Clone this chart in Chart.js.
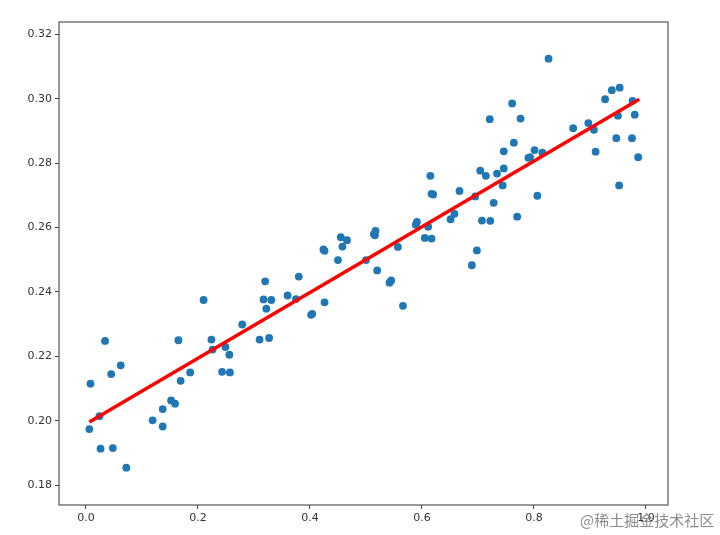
<!DOCTYPE html>
<html lang="zh">
<head>
  <meta charset="UTF-8" />
  <title>线性回归散点图</title>
  <script src="https://cdn.jsdelivr.net/npm/chart.js"></script>
  <style>
    html, body { margin: 0; padding: 0; background: #fff; }
    #wrap { position: relative; width: 720px; height: 535px; }
    #mark {
      position: absolute; left: 580px; top: 509px;
      font: 15px "Noto Sans CJK SC", sans-serif;
      color: rgba(120,120,120,0.85); white-space: nowrap;
    }
  </style>
</head>
<body>
<div id="wrap">
  <canvas id="chart" width="720" height="535"></canvas>
  <div id="mark">@稀土掘金技术社区</div>
</div>
<script>
  // scatter points
  const xValues = [0.006, 0.008, 0.024, 0.026, 0.034, 0.045, 0.048, 0.062, 0.072, 0.119,
    0.137, 0.137, 0.152, 0.159, 0.165, 0.169, 0.186, 0.210, 0.224, 0.226,
    0.243, 0.249, 0.256, 0.257, 0.279, 0.310, 0.317, 0.320, 0.322, 0.327,
    0.331, 0.360, 0.375, 0.380, 0.402, 0.404, 0.424, 0.426, 0.426, 0.450,
    0.455, 0.458, 0.466, 0.500, 0.514, 0.516, 0.517, 0.520, 0.542, 0.545,
    0.557, 0.566, 0.589, 0.591, 0.605, 0.611, 0.615, 0.617, 0.617, 0.620,
    0.651, 0.658, 0.667, 0.689, 0.695, 0.698, 0.704, 0.707, 0.714, 0.721,
    0.722, 0.728, 0.734, 0.744, 0.746, 0.746, 0.761, 0.764, 0.770, 0.776,
    0.790, 0.793, 0.801, 0.806, 0.815, 0.826, 0.870, 0.897, 0.907, 0.910,
    0.927, 0.939, 0.947, 0.950, 0.953, 0.952, 0.975, 0.976, 0.980, 0.986];
  const yValues = [0.1974, 0.2115, 0.2014, 0.1913, 0.2248, 0.2145, 0.1915, 0.2172, 0.1854, 0.2001,
    0.2036, 0.1982, 0.2063, 0.2053, 0.2250, 0.2124, 0.2150, 0.2375, 0.2252, 0.2221,
    0.2152, 0.2229, 0.2205, 0.2150, 0.2299, 0.2252, 0.2377, 0.2433, 0.2348, 0.2257,
    0.2375, 0.2389, 0.2378, 0.2448, 0.2329, 0.2332, 0.2532, 0.2528, 0.2368, 0.2499,
    0.2570, 0.2541, 0.2561, 0.2499, 0.2580, 0.2576, 0.2590, 0.2467, 0.2429, 0.2436,
    0.2540, 0.2357, 0.2609, 0.2618, 0.2568, 0.2603, 0.2761, 0.2566, 0.2705, 0.2703,
    0.2626, 0.2643, 0.2714, 0.2483, 0.2697, 0.2529, 0.2777, 0.2622, 0.2761, 0.2937,
    0.2621, 0.2677, 0.2768, 0.2731, 0.2784, 0.2837, 0.2986, 0.2864, 0.2634, 0.2939,
    0.2817, 0.2819, 0.2841, 0.2699, 0.2833, 0.3125, 0.2909, 0.2925, 0.2904, 0.2836,
    0.2999, 0.3027, 0.2878, 0.2948, 0.3035, 0.2731, 0.2878, 0.2994, 0.2951, 0.2819];

  // fitted line end points
  const fitX = [0.006, 0.988];
  const fitY = [0.1996, 0.2999];

  const xTicks = [0.0, 0.2, 0.4, 0.6, 0.8, 1.0];
  const yTicks = [0.18, 0.20, 0.22, 0.24, 0.26, 0.28, 0.30, 0.32];

  const tickFont = { family: 'DejaVu Sans', size: 11 };

  // frame round the plot area, like matplotlib's spines
  const frame = {
    id: 'frame',
    afterDatasetsDraw(chart) {
      const a = chart.chartArea, c = chart.ctx;
      c.save();
      c.strokeStyle = '#555';
      c.lineWidth = 1.2;
      c.strokeRect(a.left, a.top, a.right - a.left, a.bottom - a.top);
      c.restore();
    }
  };

  new Chart(document.getElementById('chart'), {
    type: 'scatter',
    data: {
      datasets: [{
        type: 'line',
        data: fitX.map((x, i) => ({ x: x, y: fitY[i] })),
        borderColor: '#ff0000',
        borderWidth: 3.5,
        pointRadius: 0,
        fill: false,
        order: 0
      }, {
        data: xValues.map((x, i) => ({ x: x, y: yValues[i] })),
        backgroundColor: '#1f77b4',
        borderColor: '#1f77b4',
        pointRadius: 3.9,
        borderWidth: 0,
        order: 1
      }]
    },
    options: {
      responsive: false,
      animation: false,
      devicePixelRatio: 1,
      layout: { padding: { top: 22, right: 52, left: 0, bottom: 0 } },
      plugins: { legend: { display: false }, tooltip: { enabled: false } },
      scales: {
        x: {
          type: 'linear',
          min: -0.0482, max: 1.0393,
          afterBuildTicks: s => { s.ticks = xTicks.map(v => ({ value: v })); },
          afterFit: s => { s.height = 30; },
          grid: { drawOnChartArea: false, tickLength: 4, tickColor: '#444', tickWidth: 1 },
          border: { display: false },
          ticks: { font: tickFont, color: '#333', padding: 3, maxRotation: 0,
                   callback: v => v.toFixed(1) }
        },
        y: {
          min: 0.1738, max: 0.3239,
          afterBuildTicks: s => { s.ticks = yTicks.map(v => ({ value: v })); },
          afterFit: s => { s.width = 59; },
          grid: { drawOnChartArea: false, tickLength: 4, tickColor: '#444', tickWidth: 1 },
          border: { display: false },
          ticks: { font: tickFont, color: '#333', padding: 3,
                   callback: v => v.toFixed(2) }
        }
      }
    },
    plugins: [frame]
  });
</script>
</body>
</html>
